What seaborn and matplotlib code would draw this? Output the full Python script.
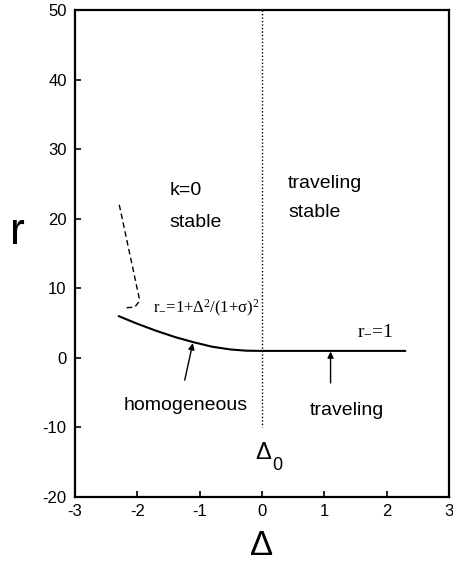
import matplotlib
matplotlib.use("Agg")
import matplotlib.pyplot as plt
import seaborn as sns
import pandas as pd

# ---- data ----
hom_delta = [-2.3, -2.0, -1.7, -1.4, -1.1, -0.8, -0.5, -0.25, 0.0, 2.3]
hom_r = [6.0, 4.9, 3.9, 3.0, 2.25, 1.6, 1.2, 1.03, 1.0, 1.0]

dash_delta = [-2.29, -1.97, -1.98, -2.04, -2.18]
dash_r = [22.0, 8.6, 8.0, 7.3, 7.2]

delta0_line_delta = [0.0, 0.0]
delta0_line_r = [50.0, -10.0]

x_ticks = [-3, -2, -1, 0, 1, 2, 3]
y_ticks = [-20, -10, 0, 10, 20, 30, 40, 50]

sns.set_theme(style="ticks")
plt.rcParams["font.family"] = ["Liberation Sans", "DejaVu Sans"]
plt.rcParams["mathtext.fontset"] = "custom"
plt.rcParams["mathtext.rm"] = "Liberation Serif"
plt.rcParams["mathtext.it"] = "Liberation Serif:italic"
plt.rcParams["axes.unicode_minus"] = False
plt.rcParams["text.color"] = "black"
plt.rcParams["axes.labelcolor"] = "black"

fig = plt.figure(figsize=(4.53, 5.64), dpi=100)
ax = fig.add_axes([75 / 453, 1 - 497 / 564, 374 / 453, 487 / 564])

df_h = pd.DataFrame({"d": hom_delta, "r": hom_r})
sns.lineplot(data=df_h, x="d", y="r", ax=ax, color="black", lw=1.5,
             sort=False, estimator=None)
df_d = pd.DataFrame({"d": dash_delta, "r": dash_r})
sns.lineplot(data=df_d, x="d", y="r", ax=ax, color="black", lw=1.0,
             sort=False, estimator=None)
ax.lines[-1].set_linestyle((0, (4, 2.5)))
df_v = pd.DataFrame({"d": delta0_line_delta, "r": delta0_line_r})
sns.lineplot(data=df_v, x="d", y="r", ax=ax, color="black", lw=1.0,
             sort=False, estimator=None)
ax.lines[-1].set_linestyle((0, (1, 1.5)))

ax.set_xlim(-3, 3)
ax.set_ylim(-20, 50)
ax.set_xticks(x_ticks)
ax.set_yticks(y_ticks)
ax.tick_params(direction="in", length=4.5, width=1.2, labelsize=12,
               colors="black")
ax.tick_params(axis="x", pad=5)
ax.tick_params(axis="y", pad=6)
for s in ax.spines.values():
    s.set_linewidth(1.6)
    s.set_visible(True)
    s.set_color("black")

ax.set_xlabel("Δ", fontsize=25)
ax.xaxis.set_label_coords(0.5, -0.099)
ax.xaxis.label.set_va("center")
ax.set_ylabel("r", fontsize=32, rotation=0)
ax.yaxis.set_label_coords(-0.155, 0.544)
ax.yaxis.label.set_va("center")
ax.yaxis.label.set_ha("center")

fs = 14
ax.text(-1.48, 23.4, "k=0", fontsize=fs, ha="left", va="baseline")
ax.text(-1.48, 18.8, "stable", fontsize=fs, ha="left", va="baseline")
ax.text(0.42, 24.4, "traveling", fontsize=fs, ha="left", va="baseline")
ax.text(0.42, 20.3, "stable", fontsize=fs, ha="left", va="baseline")

ax.text(-1.75, 6.5, r"r$_{-}$=1+Δ$^{2}$/(1+σ)$^{2}$", fontsize=12,
        family="Liberation Serif", ha="left", va="baseline")
ax.text(1.53, 3.3, r"r$_{-}$=1", fontsize=14,
        family="Liberation Serif", ha="left", va="baseline")

ax.text(-1.22, -7.5, "homogeneous", fontsize=fs, ha="center", va="baseline")
ax.text(1.36, -8.2, "traveling", fontsize=fs, ha="center", va="baseline")

ax.text(-0.11, -14.5, "Δ", fontsize=17, ha="left", va="baseline")
ax.text(0.16, -16.1, "0", fontsize=13, ha="left", va="baseline")

arrow = dict(arrowstyle="-|>", color="black", lw=1.0, mutation_scale=9,
             shrinkA=0, shrinkB=0)
ax.annotate("", xy=(-1.11, 2.1), xytext=(-1.24, -3.2), arrowprops=arrow)
ax.annotate("", xy=(1.1, 0.9), xytext=(1.1, -3.6), arrowprops=arrow)

fig.savefig("out.png", dpi=100)
